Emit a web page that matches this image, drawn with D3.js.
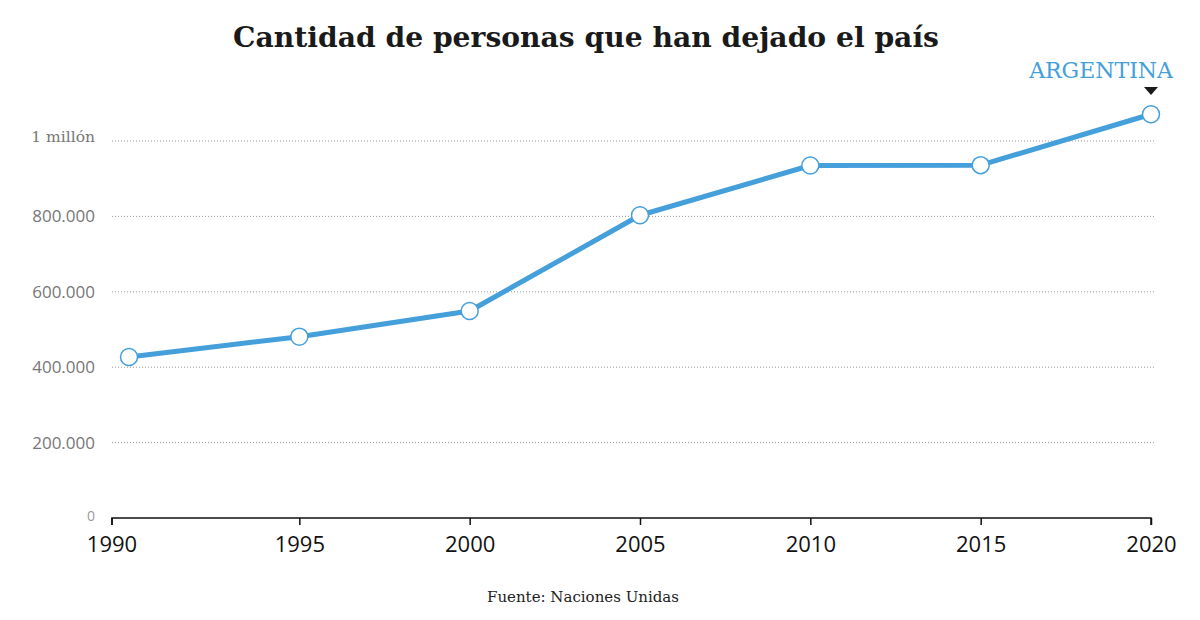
<!DOCTYPE html>
<html>
<head>
<meta charset="utf-8">
<script src="https://cdn.jsdelivr.net/npm/d3@7"></script>
<style>
  body { margin: 0; background: #fff; }
</style>
</head>
<body>
<div id="chart"></div>
<script>
const years = [1990, 1995, 2000, 2005, 2010, 2015, 2020]
const personas = [427000, 481000, 549000, 803000, 935000, 936000, 1071000]
const xTicks = [1990, 1995, 2000, 2005, 2010, 2015, 2020]
const yTicks = [0, 200000, 400000, 600000, 800000, 1000000]
const yTickLabels = ["0", "200.000", "400.000", "600.000", "800.000", "1 millón"]

const width = 1200
const height = 620
const blue = "#449fdb"
const serif = "'DejaVu Serif', 'Liberation Serif', serif"
const sans = "'Open Sans', 'Noto Sans', sans-serif"

const svg = d3.select("#chart").append("svg")
    .attr("width", width)
    .attr("height", height)

const x = d3.scaleLinear().domain([1990, 2020]).range([129, 1151])
const y = d3.scaleLinear().domain([0, 1000000]).range([518, 141])
const axisStart = 112

// title
svg.append("text")
    .attr("x", 586)
    .attr("y", 47)
    .attr("text-anchor", "middle")
    .attr("font-family", serif)
    .attr("font-weight", "bold")
    .attr("font-size", 28.2)
    .attr("fill", "#1a1a1a")
    .text("Cantidad de personas que han dejado el país")

// grid lines
svg.append("g")
    .selectAll("line")
    .data(yTicks.filter(d => d > 0))
    .enter()
    .append("line")
    .attr("x1", axisStart)
    .attr("x2", 1154)
    .attr("y1", d => y(d))
    .attr("y2", d => y(d))
    .attr("stroke", "#999")
    .attr("stroke-width", 1)
    .attr("stroke-dasharray", "1,2")

// y labels
svg.append("g")
    .selectAll("text")
    .data(yTicks)
    .enter()
    .append("text")
    .attr("x", 95)
    .attr("y", (d, i) => y(d) - (i === 0 ? 2 : (i === yTicks.length - 1 ? 4 : 0)))
    .attr("dy", "0.35em")
    .attr("text-anchor", "end")
    .attr("font-family", (d, i) => i === yTicks.length - 1 ? serif : sans)
    .attr("font-size", (d, i) => i === 0 ? 14 : (i === yTicks.length - 1 ? 15.5 : 17))
    .attr("fill", (d, i) => i === 0 ? "#999" : "#777")
    .text((d, i) => yTickLabels[i])

// x axis
const xAxis = d3.axisBottom(x)
    .tickValues(xTicks)
    .tickFormat(d3.format("d"))
    .tickSize(7)
    .tickPadding(11)

const gx = svg.append("g")
    .attr("transform", "translate(0,518)")
    .call(xAxis)
gx.select(".domain").attr("stroke", "#111").attr("stroke-width", 1.5)
    .attr("d", `M${axisStart},7V0H${x(2020)}V7`)
// first tick sits at the start of the axis
gx.selectAll(".tick").filter(d => d === xTicks[0])
    .attr("transform", `translate(${axisStart},0)`)
gx.selectAll(".tick line").attr("stroke", "#111").attr("stroke-width", 1.5)
gx.selectAll(".tick text")
    .attr("font-family", sans)
    .attr("font-size", 22)
    .attr("fill", "#111")

// line
const line = d3.line()
    .x((d, i) => x(years[i]))
    .y(d => y(d))

svg.append("path")
    .datum(personas)
    .attr("d", line)
    .attr("fill", "none")
    .attr("stroke", blue)
    .attr("stroke-width", 5)
    .attr("stroke-linejoin", "round")

svg.append("g")
    .selectAll("circle")
    .data(personas)
    .enter()
    .append("circle")
    .attr("cx", (d, i) => x(years[i]))
    .attr("cy", d => y(d))
    .attr("r", 8.5)
    .attr("fill", "#fff")
    .attr("stroke", blue)
    .attr("stroke-width", 1.5)

// label for last point
const lastX = x(years[years.length - 1])
svg.append("text")
    .attr("x", 1173)
    .attr("y", 78)
    .attr("text-anchor", "end")
    .attr("font-family", serif)
    .attr("font-size", 22)
    .attr("fill", blue)
    .text("ARGENTINA")

svg.append("path")
    .attr("d", `M${lastX - 7},87 L${lastX + 7},87 L${lastX},95 Z`)
    .attr("fill", "#1a1a1a")

// source
svg.append("text")
    .attr("x", 583)
    .attr("y", 602)
    .attr("text-anchor", "middle")
    .attr("font-family", serif)
    .attr("font-size", 15)
    .attr("fill", "#222")
    .text("Fuente: Naciones Unidas")
</script>
</body>
</html>
